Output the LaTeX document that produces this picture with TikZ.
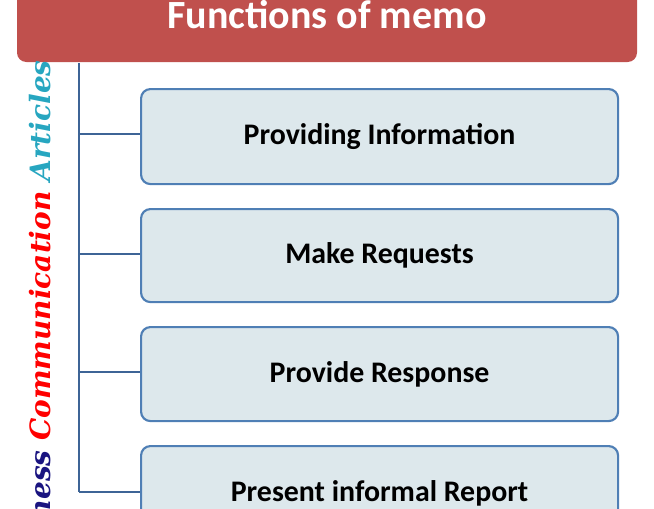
\documentclass[tikz,border=0pt]{standalone}
\usepackage{fontspec}
\setmainfont{Carlito}
\newfontfamily\scriptf{DejaVu Serif}
\definecolor{tred}{HTML}{C0504D}
\definecolor{bfill}{HTML}{DDE8EC}
\definecolor{bdraw}{HTML}{4F7FB5}
\definecolor{lline}{HTML}{3E6496}
\definecolor{bizblue}{HTML}{1A1480}
\definecolor{artteal}{HTML}{27A6C0}
\begin{document}
\begin{tikzpicture}[x=0.75pt,y=-0.75pt,
  item/.style={draw=bdraw,line width=1.6pt,fill=bfill,rounded corners=7pt,minimum width=477*0.75pt,anchor=north west,font=\bfseries\fontsize{22.4}{24}\selectfont,text=black},
  conn/.style={draw=lline,line width=1.8pt}]
\useasboundingbox (0,0) rectangle (654,508);
\begin{scope}
\clip (0,0) rectangle (654,508);
\fill[tred,rounded corners=7pt] (17,-20) rectangle (637,62);
\node[text=white,font=\bfseries\fontsize{30}{32}\selectfont] (title) at (327,15) {Functions of memo};
\node[item,minimum height=95*0.75pt] (b1) at (140,88) {Providing Information};
\node[item,minimum height=93*0.75pt] (b2) at (140,208) {Make Requests};
\node[item,minimum height=94*0.75pt] (b3) at (140,326) {Provide Response};
\node[item,minimum height=94*0.75pt] (b4) at (140,445) {Present informal Report};
\coordinate (top) at (79,63);
\coordinate (bot) at (79,492);
\draw[conn] (top) -- (bot);
\draw[conn] (79,134) -- (b1.west |- 0,134);
\draw[conn] (79,254) -- (b2.west |- 0,254);
\draw[conn] (79,372) -- (b3.west |- 0,372);
\draw[conn] (79,492) -- (b4.west |- 0,492);
\node[rotate=90,anchor=south east,font=\scriptf\bfseries\itshape\fontsize{21}{22}\selectfont,inner sep=0pt] (side) at (51,60)
  {\textcolor{bizblue}{Business} \textcolor{red}{Communication} \textcolor{artteal}{Articles}};
\end{scope}
\end{tikzpicture}
\end{document}
